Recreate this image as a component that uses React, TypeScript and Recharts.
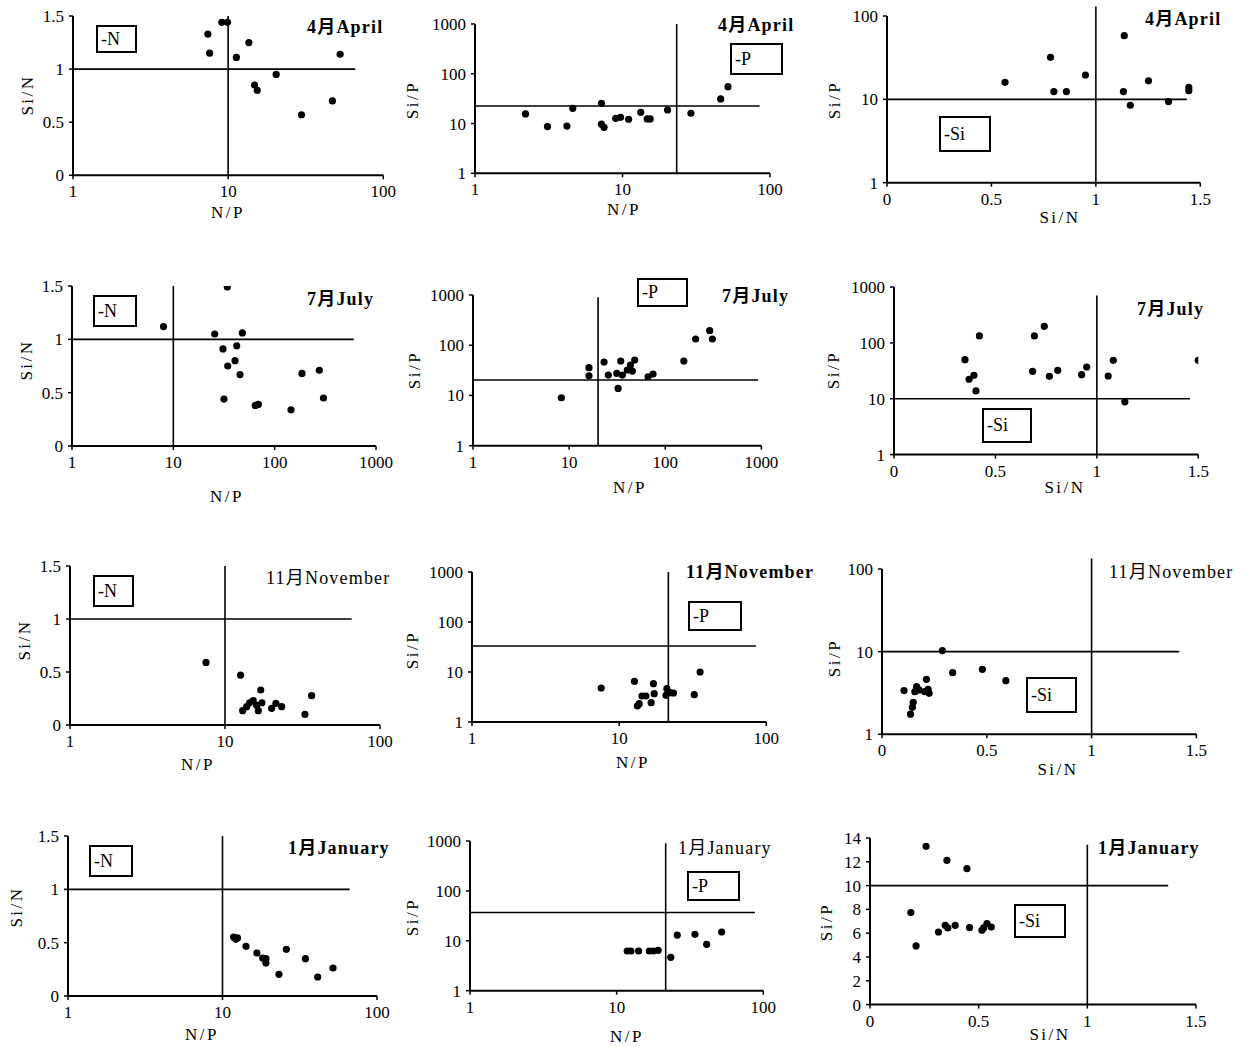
import React from 'react';
import { ScatterChart, Scatter, XAxis, YAxis, ReferenceLine } from 'recharts';

const FONT = '"Liberation Serif", "Noto Sans CJK SC", serif';

// tick labels
const logTicks100 = [1, 10, 100];
const logTicks1000 = [1, 10, 100, 1000];
const siNTicks = [0, 0.5, 1, 1.5];
const janSiPTicks = [0, 2, 4, 6, 8, 10, 12, 14];

const months = ['4月April', '7月July', '11月November', '1月January'];
const limitTags = ['-N', '-P', '-Si'];

// April
const aprNp1 = [7.4, 7.6, 9.1, 9.9, 11.3, 13.6, 14.8, 15.4, 20.4, 29.7, 47, 52.7];
const aprSin1 = [1.33, 1.15, 1.44, 1.44, 1.11, 1.25, 0.85, 0.8, 0.95, 0.57, 0.7, 1.14];
const aprNp2 = [2.2, 3.1, 4.2, 4.6, 7.2, 7.2, 7.5, 9.0, 9.7, 11.0, 13.3, 14.7, 15.4, 20.2, 29.1, 46.3, 51.9];
const aprSip2 = [15.6, 8.7, 8.9, 20.2, 25.5, 9.7, 8.4, 12.7, 13.3, 12.2, 16.8, 12.4, 12.4, 18.7, 16.1, 31.2, 55.1];
const aprSin3 = [0.565, 0.783, 0.799, 0.859, 0.95, 1.136, 1.132, 1.165, 1.252, 1.348, 1.445, 1.445];
const aprSip3 = [16.0, 31.9, 12.4, 12.4, 19.6, 58.1, 12.4, 8.5, 16.7, 9.4, 13.9, 12.7];

// July
const julNp4 = [8.0, 25.6, 34.1, 48.0, 30.9, 42.2, 40.6, 34.4, 45.5, 31.6, 64.4, 69, 145, 186, 276, 303];
const julSin4 = [1.12, 1.05, 1.49, 1.06, 0.91, 0.94, 0.8, 0.75, 0.67, 0.44, 0.38, 0.39, 0.34, 0.68, 0.71, 0.45];
const julNp5 = [8.3, 16.1, 16.1, 23.1, 25.6, 32.3, 31.3, 34.4, 35.8, 40.3, 43.4, 45.5, 48.1, 66.2, 74.6, 156, 207, 290, 309];
const julSip5 = [9.0, 35.7, 24.7, 46.3, 25.5, 13.8, 27.5, 48.5, 25.5, 32.1, 40.3, 30.6, 50.7, 23.6, 26.7, 48.5, 133, 195, 133];
const julSin6 = [0.35, 0.37, 0.394, 0.404, 0.421, 0.692, 0.741, 0.683, 0.766, 0.807, 0.925, 0.95, 1.056, 1.081, 1.138, 1.5];
const julSip6 = [50, 22.3, 26.3, 13.8, 133, 133, 198, 31, 25.2, 32.3, 27, 37, 25.5, 48.7, 8.8, 48.7];

// November
const novNp7 = [7.54, 12.6, 17.0, 13.0, 13.8, 14.4, 15.2, 16.4, 17.3, 16.0, 20.0, 21.3, 23.2, 32.8, 36.2];
const novSin7 = [0.59, 0.47, 0.33, 0.135, 0.173, 0.21, 0.23, 0.135, 0.21, 0.186, 0.157, 0.204, 0.173, 0.1, 0.277];
const novNp8 = [7.55, 12.7, 13.3, 13.7, 14.3, 15.2, 16.5, 17.1, 17.3, 20.8, 21.1, 22.2, 23.4, 32.4, 35.5];
const novSip8 = [4.79, 6.5, 2.09, 2.33, 3.31, 3.31, 2.44, 5.84, 3.69, 3.42, 4.64, 3.86, 3.8, 3.52, 10];
const novSin9 = [0.105, 0.136, 0.145, 0.149, 0.157, 0.165, 0.177, 0.212, 0.22, 0.204, 0.225, 0.288, 0.337, 0.479, 0.591];
const novSip9 = [3.38, 1.75, 2.12, 2.44, 3.28, 3.77, 3.44, 4.63, 3.5, 3.28, 3.13, 10.3, 5.57, 6.11, 4.46];

// January
const janNp10 = [11.8, 12.2, 12.5, 14.2, 16.7, 18.2, 19.1, 19.1, 23.2, 25.9, 34.4, 41.3, 51.9];
const janSin10 = [0.553, 0.531, 0.544, 0.466, 0.403, 0.356, 0.35, 0.309, 0.203, 0.4375, 0.35, 0.178, 0.2625];
const janNp11 = [11.8, 12.5, 14.1, 16.7, 17.8, 19.2, 23.4, 25.9, 34.2, 41.1, 52];
const janSip11 = [6.24, 6.24, 6.24, 6.24, 6.24, 6.43, 4.66, 13, 13.5, 8.5, 15];
const janSin12 = [0.258, 0.354, 0.446, 0.188, 0.212, 0.315, 0.346, 0.358, 0.392, 0.458, 0.515, 0.523, 0.538, 0.558];
const janSip12 = [13.3, 12.12, 11.42, 7.73, 4.93, 6.1, 6.66, 6.44, 6.66, 6.47, 6.24, 6.44, 6.8, 6.52];

const pts = (xs: number[], ys: number[]) => xs.map((x, i) => ({ x, y: ys[i] }));

type Ax = { log: boolean; domain: [number, number]; ticks: number[] };
const npLog100: Ax = { log: true, domain: [1, 100], ticks: logTicks100 };
const npLog1000: Ax = { log: true, domain: [1, 1000], ticks: logTicks1000 };
const siN: Ax = { log: false, domain: [0, 1.5], ticks: siNTicks };
const siPLog100: Ax = { log: true, domain: [1, 100], ticks: logTicks100 };
const siPLog1000: Ax = { log: true, domain: [1, 1000], ticks: logTicks1000 };
const siPJan: Ax = { log: false, domain: [0, 14], ticks: janSiPTicks };

type PanelCfg = {
  box: { l: number; r: number; t: number; b: number };
  data: { x: number; y: number }[];
  xa: Ax;
  ya: Ax;
  h: [number, number, number];
  v: [number, number, number];
  title: string;
  tx: number;
  ty: number;
  bold: boolean;
  tag: string;
  tagBox: [number, number, number, number];
  xLabel: string;
  xl: [number, number];
  yLabel: string;
  yl: [number, number];
};

const panels: PanelCfg[] = [
  { box: { l: 72.7, r: 383, t: 15.7, b: 175 }, data: pts(aprNp1, aprSin1), xa: npLog100, ya: siN, h: [1, 1, 66], v: [10, 0, 1.5], title: months[0], tx: 307, ty: 25, bold: true, tag: limitTags[0], tagBox: [96, 25, 41, 28], xLabel: 'N/P', xl: [228, 213], yLabel: 'Si/N', yl: [28, 95] },
  { box: { l: 475, r: 770, t: 24, b: 173.3 }, data: pts(aprNp2, aprSip2), xa: npLog100, ya: siPLog1000, h: [22.5, 1, 85], v: [23.3, 1, 1000], title: months[0], tx: 718, ty: 23, bold: true, tag: limitTags[1], tagBox: [730, 43, 53, 32], xLabel: 'N/P', xl: [624, 210], yLabel: 'Si/P', yl: [413, 100] },
  { box: { l: 886.7, r: 1200, t: 16, b: 182.7 }, data: pts(aprSin3, aprSip3), xa: siN, ya: siPLog100, h: [10, 0, 1.436], v: [1, 1, 130], title: months[0], tx: 1145, ty: 17, bold: true, tag: limitTags[2], tagBox: [939, 116, 52, 36], xLabel: 'Si/N', xl: [1060, 218], yLabel: 'Si/P', yl: [835, 100] },

  { box: { l: 71.7, r: 375.7, t: 286, b: 446 }, data: pts(julNp4, julSin4), xa: npLog1000, ya: siN, h: [1, 1, 603], v: [10, 0, 1.5], title: months[1], tx: 307, ty: 297, bold: true, tag: limitTags[0], tagBox: [93, 295, 44, 32], xLabel: 'N/P', xl: [227, 497], yLabel: 'Si/N', yl: [27, 360] },
  { box: { l: 473.3, r: 761.7, t: 295, b: 445.7 }, data: pts(julNp5, julSip5), xa: npLog1000, ya: siPLog1000, h: [20.3, 1, 925], v: [20, 1, 900], title: months[1], tx: 722, ty: 294, bold: true, tag: limitTags[1], tagBox: [637, 278, 51, 29], xLabel: 'N/P', xl: [630, 488], yLabel: 'Si/P', yl: [415, 370] },
  { box: { l: 894, r: 1198.3, t: 286.7, b: 454.3 }, data: pts(julSin6, julSip6), xa: siN, ya: siPLog1000, h: [10, 0, 1.459], v: [1, 1, 708], title: months[1], tx: 1137, ty: 307, bold: true, tag: limitTags[2], tagBox: [982, 408, 50, 35], xLabel: 'Si/N', xl: [1065, 488], yLabel: 'Si/P', yl: [834, 370] },

  { box: { l: 70, r: 380, t: 566, b: 725 }, data: pts(novNp7, novSin7), xa: npLog100, ya: siN, h: [1, 1, 65.6], v: [10, 0, 1.5], title: months[2], tx: 266, ty: 576, bold: false, tag: limitTags[0], tagBox: [93, 575, 41, 32], xLabel: 'N/P', xl: [198, 765], yLabel: 'Si/N', yl: [25, 640] },
  { box: { l: 471.7, r: 766, t: 571.7, b: 721.7 }, data: pts(novNp8, novSip8), xa: npLog100, ya: siPLog1000, h: [33, 1, 85], v: [21.6, 1, 1000], title: months[2], tx: 686, ty: 570, bold: true, tag: limitTags[1], tagBox: [688, 601, 54, 30], xLabel: 'N/P', xl: [633, 763], yLabel: 'Si/P', yl: [413, 650] },
  { box: { l: 882.3, r: 1196.7, t: 569, b: 734.3 }, data: pts(novSin9, novSip9), xa: siN, ya: siPLog100, h: [10, 0, 1.418], v: [1, 1, 134], title: months[2], tx: 1109, ty: 570, bold: false, tag: limitTags[2], tagBox: [1026, 677, 51, 36], xLabel: 'Si/N', xl: [1058, 770], yLabel: 'Si/P', yl: [835, 658] },

  { box: { l: 67.7, r: 376.7, t: 835.7, b: 995.7 }, data: pts(janNp10, janSin10), xa: npLog100, ya: siN, h: [1, 1, 66.5], v: [10, 0, 1.5], title: months[3], tx: 288, ty: 846, bold: true, tag: limitTags[0], tagBox: [89, 845, 44, 32], xLabel: 'N/P', xl: [202, 1035], yLabel: 'Si/N', yl: [17, 907] },
  { box: { l: 470, r: 763.3, t: 841, b: 990.7 }, data: pts(janNp11, janSip11), xa: npLog100, ya: siPLog1000, h: [37, 1, 87.7], v: [21.6, 1, 900], title: months[3], tx: 678, ty: 846, bold: false, tag: limitTags[1], tagBox: [687, 871, 53, 30], xLabel: 'N/P', xl: [627, 1037], yLabel: 'Si/P', yl: [413, 917] },
  { box: { l: 870, r: 1196, t: 837.7, b: 1004.3 }, data: pts(janSin12, janSip12), xa: siN, ya: siPJan, h: [10, 0, 1.372], v: [1, 0, 13.44], title: months[3], tx: 1098, ty: 846, bold: true, tag: limitTags[2], tagBox: [1014, 904, 52, 34], xLabel: 'Si/N', xl: [1050, 1035], yLabel: 'Si/P', yl: [827, 922] },
];

const YW = 60;
const MT = 14;
const MR = 24;
const XH = 40;

const tickStyle = { fontSize: 17, fill: '#000', fontFamily: FONT };

const Dot = (p: any) => <circle cx={p.cx} cy={p.cy} r={3.6} fill="#000" />;

const Panel = ({ c }: { c: PanelCfg }) => {
  const w = c.box.r - c.box.l + YW + MR;
  const h = c.box.b - c.box.t + MT + XH;
  return (
    <>
      <div style={{ position: 'absolute', left: c.box.l - YW, top: c.box.t - MT }}>
        <ScatterChart width={w} height={h} margin={{ top: MT, right: MR, left: 0, bottom: 0 }}>
          <XAxis
            type="number"
            dataKey="x"
            scale={c.xa.log ? 'log' : 'linear'}
            domain={c.xa.domain}
            ticks={c.xa.ticks}
            interval={0}
            allowDataOverflow
            height={XH}
            axisLine={{ stroke: '#000', strokeWidth: 2 }}
            tickLine={{ stroke: '#000', strokeWidth: 1.5 }}
            tickSize={4}
            tickMargin={6}
            tick={tickStyle}
          />
          <YAxis
            type="number"
            dataKey="y"
            scale={c.ya.log ? 'log' : 'linear'}
            domain={c.ya.domain}
            ticks={c.ya.ticks}
            interval={0}
            allowDataOverflow
            width={YW}
            axisLine={{ stroke: '#000', strokeWidth: 2 }}
            tickLine={{ stroke: '#000', strokeWidth: 1.5 }}
            tickSize={4}
            tickMargin={5}
            tick={tickStyle}
          />
          <ReferenceLine
            segment={[{ x: c.h[1], y: c.h[0] }, { x: c.h[2], y: c.h[0] }]}
            stroke="#000"
            strokeWidth={1.6}
            ifOverflow="visible"
          />
          <ReferenceLine
            segment={[{ x: c.v[0], y: c.v[1] }, { x: c.v[0], y: c.v[2] }]}
            stroke="#000"
            strokeWidth={1.6}
            ifOverflow="visible"
          />
          <Scatter data={c.data} shape={Dot} isAnimationActive={false} />
        </ScatterChart>
      </div>
      <div
        style={{
          position: 'absolute',
          left: c.tx,
          top: c.ty,
          transform: 'translateY(-50%)',
          fontSize: 18,
          fontWeight: c.bold ? 'bold' : 'normal',
          letterSpacing: 1.2,
          whiteSpace: 'nowrap',
        }}
      >
        {c.title}
      </div>
      <div
        style={{
          position: 'absolute',
          left: c.tagBox[0],
          top: c.tagBox[1],
          width: c.tagBox[2],
          height: c.tagBox[3],
          boxSizing: 'border-box',
          border: '2px solid #000',
          background: '#fff',
          fontSize: 18,
          lineHeight: `${c.tagBox[3] - 4}px`,
          paddingLeft: 3,
        }}
      >
        {c.tag}
      </div>
      <div
        style={{
          position: 'absolute',
          left: c.xl[0],
          top: c.xl[1],
          transform: 'translate(-50%, -50%)',
          fontSize: 17,
          letterSpacing: 2.5,
          whiteSpace: 'nowrap',
        }}
      >
        {c.xLabel}
      </div>
      <div
        style={{
          position: 'absolute',
          left: c.yl[0],
          top: c.yl[1],
          transform: 'translate(-50%, -50%) rotate(-90deg)',
          fontSize: 17,
          letterSpacing: 2.5,
          whiteSpace: 'nowrap',
        }}
      >
        {c.yLabel}
      </div>
    </>
  );
};

const App = () => (
  <div
    style={{
      position: 'absolute',
      left: 0,
      top: 0,
      width: 1251,
      height: 1047,
      background: '#fff',
      fontFamily: FONT,
      color: '#000',
      overflow: 'hidden',
    }}
  >
    {panels.map((c, i) => (
      <Panel key={i} c={c} />
    ))}
  </div>
);

export default App;
